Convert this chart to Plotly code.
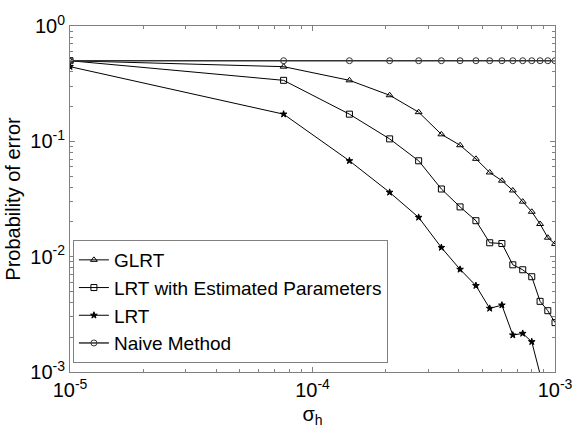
import plotly.graph_objects as go

sigma_h = [1.0e-5, 7.6e-5, 1.42e-4, 2.08e-4, 2.74e-4, 3.40e-4, 4.06e-4, 4.72e-4,
           5.38e-4, 6.04e-4, 6.70e-4, 7.36e-4, 8.02e-4, 8.68e-4, 9.34e-4, 1.0e-3]

glrt = [0.5, 0.444, 0.338, 0.251, 0.179, 0.115, 0.0925, 0.0705,
        0.0537, 0.0456, 0.0375, 0.030, 0.0245, 0.0192, 0.0146, 0.0129]
lrt_est = [0.5, 0.338, 0.172, 0.105, 0.0678, 0.0386, 0.0270, 0.0205,
           0.0132, 0.0130, 0.0085, 0.0077, 0.0067, 0.0041, 0.0034, 0.00268]
lrt = [0.444, 0.172, 0.0678, 0.0361, 0.0219, 0.0120, 0.00776, 0.00561,
       0.00356, 0.00380, 0.00209, 0.00216, 0.00183, 0.00090, 0.00050, 0.00030]
naive = [0.5] * 16

names = ["GLRT", "LRT with Estimated Parameters", "LRT", "Naive Method"]
series = [glrt, lrt_est, lrt, naive]
symbols = ["triangle-up-open", "square-open", "star", "circle-open"]
sizes = [6, 6, 5, 6]
widths = [1, 1, 1, 1.5]
colors = ["#000000", "#000000", "#000000", "#333333"]

xticks = [1e-5, 1e-4, 1e-3]
xticktext = ["10<sup>-5</sup>", "10<sup>-4</sup>", "10<sup>-3</sup>"]
yticks = [1e-3, 1e-2, 1e-1, 1]
yticktext = ["10<sup>-3</sup>", "10<sup>-2</sup>", "10<sup>-1</sup>", "10<sup>0</sup>"]
x_minor = [m * 10.0 ** e for e in (-5, -4) for m in range(2, 10)]
y_minor = [m * 10.0 ** e for e in (-3, -2, -1) for m in range(2, 10)]

fig = go.Figure()
for n, s, sym, sz, w, c in zip(names, series, symbols, sizes, widths, colors):
    fig.add_trace(go.Scatter(
        x=sigma_h, y=s, mode="lines+markers", name=n,
        line=dict(color=c, width=w),
        marker=dict(symbol=sym, size=sz, color=c, line=dict(color=c, width=1)),
    ))

font = "Liberation Sans, Arial, sans-serif"
axis_common = dict(
    showgrid=False, zeroline=False, showline=True, linecolor="#808080", linewidth=1,
    mirror="ticks", ticks="inside", ticklen=5, tickcolor="#808080",
    tickfont=dict(family=font, size=20, color="#000000"),
)

fig.update_xaxes(type="log", range=[-5, -3], tickvals=xticks, ticktext=xticktext,
                 minor=dict(ticks="inside", ticklen=3, tickcolor="#808080", showgrid=False,
                            tickmode="array", tickvals=x_minor),
                 title=dict(text="σ<sub>h</sub>", font=dict(family=font, size=20, color="#000"), standoff=6),
                 **axis_common)
fig.update_yaxes(type="log", range=[-3, 0], tickvals=yticks, ticktext=yticktext,
                 minor=dict(ticks="inside", ticklen=3, tickcolor="#808080", showgrid=False,
                            tickmode="array", tickvals=y_minor),
                 title=dict(text="Probability of error", font=dict(family=font, size=20, color="#000"), standoff=4),
                 **axis_common)

fig.update_layout(
    width=585, height=434,
    margin=dict(l=67, r=18, t=17, b=62),
    paper_bgcolor="white", plot_bgcolor="white",
    font=dict(family=font, size=20, color="#000"),
    legend=dict(x=0.006, y=0.026, xanchor="left", yanchor="bottom",
                bgcolor="white", bordercolor="#808080", borderwidth=1,
                font=dict(family=font, size=19, color="#000"),
                tracegroupgap=0, itemwidth=30),
    showlegend=True,
)

fig.write_html("out.html")
